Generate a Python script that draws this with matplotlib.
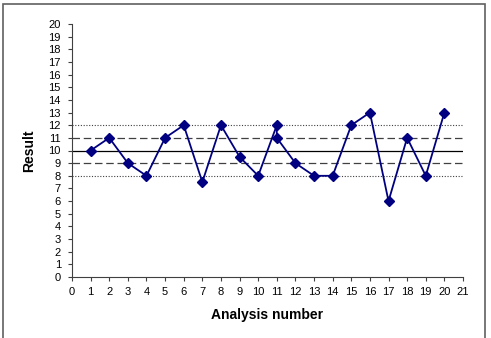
import matplotlib
matplotlib.use("Agg")
from matplotlib import pyplot as plt
from matplotlib.patches import Rectangle

plt.rcParams['font.family'] = ['Liberation Sans', 'DejaVu Sans']

# ----------
# Data

analysis = [1, 2, 3, 4, 5, 6, 7, 8, 9, 10, 11, 11, 12, 13, 14, 15, 16, 17, 18, 19, 20]
result = [10, 11, 9, 8, 11, 12, 7.5, 12, 9.5, 8, 12, 11, 9, 8, 8, 12, 13, 6, 11, 8, 13]

mean_line = 10
warn_lines = [9, 11]      # dashed
action_lines = [8, 12]    # dotted

# ----------
# Figure

fig = plt.figure(figsize=(4.91, 3.38), dpi=100)
ax = fig.add_axes([72/491, 61/338, 391/491, 253/338])

ax.axhline(mean_line, color='black', lw=0.9)
for y in warn_lines:
    ax.axhline(y, color='#404040', lw=0.9, ls=(0, (6, 3)))
for y in action_lines:
    ax.axhline(y, color='#404040', lw=0.8, ls=(0, (1, 1.5)))

ax.plot(analysis, result, color='#000080', lw=1.3, marker='D', ms=5.5,
        mfc='#000080', mec='#000080', zorder=3)

ax.set_xlim(0, 21)
ax.set_ylim(0, 20)
ax.set_xticks(range(0, 22))
ax.set_yticks(range(0, 21))
ax.tick_params(labelsize=8, length=3, width=0.8, color='#404040')
ax.tick_params(axis='y', pad=5)
ax.tick_params(axis='x', pad=4)
ax.spines['top'].set_visible(False)
ax.spines['right'].set_visible(False)
ax.spines['left'].set_color('#404040')
ax.spines['bottom'].set_color('#404040')

ax.set_xlabel('Analysis number', fontsize=10, fontweight='bold', labelpad=8)
ax.set_ylabel('Result', fontsize=10, fontweight='bold', labelpad=9)

# border round the picture (bottom edge falls outside the image)
fig.patches.append(Rectangle((3/491, -0.02), 482/491, 1.02 - 4/338,
                             transform=fig.transFigure,
                             fill=False, ec='#606060', lw=1.2))

fig.savefig('out.png', dpi=100)
